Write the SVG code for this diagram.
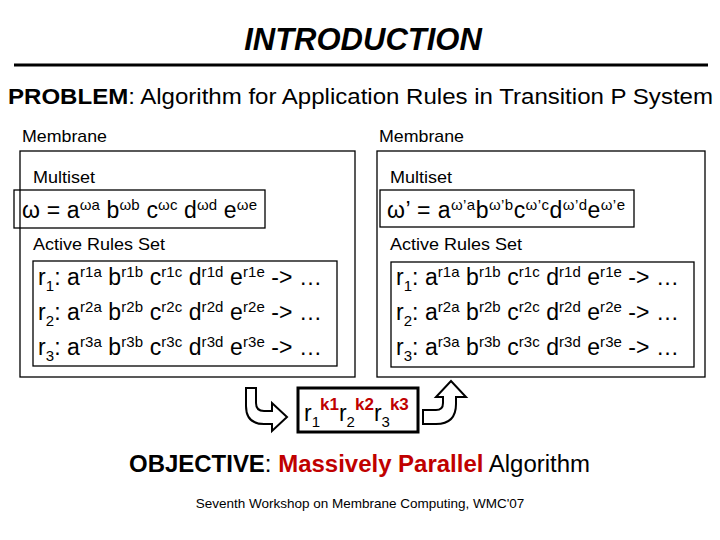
<svg xmlns="http://www.w3.org/2000/svg" width="720" height="540" viewBox="0 0 720 540">
<style>
text{font-family:"Liberation Sans",Arial,sans-serif;fill:#000}
.box{fill:none;stroke:#000;stroke-width:1.3}
.lbl{font-size:17px}
.ml{font-size:23px}
.sup{font-size:15px}
.sub{font-size:15px}
.red{fill:#c00000;font-weight:bold}
</style>
<rect width="720" height="540" fill="#fff"/>
<text x="363" y="50" text-anchor="middle" font-size="31" font-weight="bold" font-style="italic">INTRODUCTION</text>
<line x1="14" y1="65" x2="708" y2="65" stroke="#000" stroke-width="3"/>
<text x="8" y="104" font-size="22" textLength="705" lengthAdjust="spacingAndGlyphs"><tspan font-weight="bold">PROBLEM</tspan>: Algorithm for Application Rules in Transition P System</text>

<g id="membrane-left">
<text class="lbl" x="22" y="142" textLength="85" lengthAdjust="spacingAndGlyphs">Membrane</text>
<rect class="box" x="20" y="151" width="335" height="226"/>
<text class="lbl" x="33" y="183" textLength="62" lengthAdjust="spacingAndGlyphs">Multiset</text>
<rect class="box" x="14" y="190" width="251" height="38"/>
<text class="ml" x="22" y="218" textLength="235" lengthAdjust="spacing">ω = a<tspan class="sup" dy="-8">ωa</tspan><tspan dy="8"> b</tspan><tspan class="sup" dy="-8">ωb</tspan><tspan dy="8"> c</tspan><tspan class="sup" dy="-8">ωc</tspan><tspan dy="8"> d</tspan><tspan class="sup" dy="-8">ωd</tspan><tspan dy="8"> e</tspan><tspan class="sup" dy="-8">ωe</tspan></text>
<text class="lbl" x="33" y="250" textLength="132" lengthAdjust="spacingAndGlyphs">Active Rules Set</text>
<rect class="box" x="33" y="261" width="304" height="105"/>
<text class="ml" x="38" y="285" textLength="284" lengthAdjust="spacing">r<tspan class="sub" dy="6">1</tspan><tspan dy="-6">: a</tspan><tspan class="sup" dy="-8">r1a</tspan><tspan dy="8"> b</tspan><tspan class="sup" dy="-8">r1b</tspan><tspan dy="8"> c</tspan><tspan class="sup" dy="-8">r1c</tspan><tspan dy="8"> d</tspan><tspan class="sup" dy="-8">r1d</tspan><tspan dy="8"> e</tspan><tspan class="sup" dy="-8">r1e</tspan><tspan dy="8"> -&gt;  …</tspan></text>
<text class="ml" x="38" y="320" textLength="284" lengthAdjust="spacing">r<tspan class="sub" dy="6">2</tspan><tspan dy="-6">: a</tspan><tspan class="sup" dy="-8">r2a</tspan><tspan dy="8"> b</tspan><tspan class="sup" dy="-8">r2b</tspan><tspan dy="8"> c</tspan><tspan class="sup" dy="-8">r2c</tspan><tspan dy="8"> d</tspan><tspan class="sup" dy="-8">r2d</tspan><tspan dy="8"> e</tspan><tspan class="sup" dy="-8">r2e</tspan><tspan dy="8"> -&gt;  …</tspan></text>
<text class="ml" x="38" y="355" textLength="284" lengthAdjust="spacing">r<tspan class="sub" dy="6">3</tspan><tspan dy="-6">: a</tspan><tspan class="sup" dy="-8">r3a</tspan><tspan dy="8"> b</tspan><tspan class="sup" dy="-8">r3b</tspan><tspan dy="8"> c</tspan><tspan class="sup" dy="-8">r3c</tspan><tspan dy="8"> d</tspan><tspan class="sup" dy="-8">r3d</tspan><tspan dy="8"> e</tspan><tspan class="sup" dy="-8">r3e</tspan><tspan dy="8"> -&gt;  …</tspan></text>
</g>

<g id="membrane-right">
<text class="lbl" x="379" y="142" textLength="85" lengthAdjust="spacingAndGlyphs">Membrane</text>
<rect class="box" x="377" y="151" width="328" height="226"/>
<text class="lbl" x="390" y="183" textLength="62" lengthAdjust="spacingAndGlyphs">Multiset</text>
<rect class="box" x="380" y="190" width="254" height="37"/>
<text class="ml" x="387" y="218" textLength="238" lengthAdjust="spacing">ω’ = a<tspan class="sup" dy="-8">ω’a</tspan><tspan dy="8">b</tspan><tspan class="sup" dy="-8">ω’b</tspan><tspan dy="8">c</tspan><tspan class="sup" dy="-8">ω’c</tspan><tspan dy="8">d</tspan><tspan class="sup" dy="-8">ω’d</tspan><tspan dy="8">e</tspan><tspan class="sup" dy="-8">ω’e</tspan></text>
<text class="lbl" x="390" y="250" textLength="132" lengthAdjust="spacingAndGlyphs">Active Rules Set</text>
<rect class="box" x="391" y="262" width="303" height="105"/>
<text class="ml" x="396" y="285" textLength="283" lengthAdjust="spacing">r<tspan class="sub" dy="6">1</tspan><tspan dy="-6">: a</tspan><tspan class="sup" dy="-8">r1a</tspan><tspan dy="8"> b</tspan><tspan class="sup" dy="-8">r1b</tspan><tspan dy="8"> c</tspan><tspan class="sup" dy="-8">r1c</tspan><tspan dy="8"> d</tspan><tspan class="sup" dy="-8">r1d</tspan><tspan dy="8"> e</tspan><tspan class="sup" dy="-8">r1e</tspan><tspan dy="8"> -&gt;  …</tspan></text>
<text class="ml" x="396" y="320" textLength="283" lengthAdjust="spacing">r<tspan class="sub" dy="6">2</tspan><tspan dy="-6">: a</tspan><tspan class="sup" dy="-8">r2a</tspan><tspan dy="8"> b</tspan><tspan class="sup" dy="-8">r2b</tspan><tspan dy="8"> c</tspan><tspan class="sup" dy="-8">r2c</tspan><tspan dy="8"> d</tspan><tspan class="sup" dy="-8">r2d</tspan><tspan dy="8"> e</tspan><tspan class="sup" dy="-8">r2e</tspan><tspan dy="8"> -&gt;  …</tspan></text>
<text class="ml" x="396" y="355" textLength="283" lengthAdjust="spacing">r<tspan class="sub" dy="6">3</tspan><tspan dy="-6">: a</tspan><tspan class="sup" dy="-8">r3a</tspan><tspan dy="8"> b</tspan><tspan class="sup" dy="-8">r3b</tspan><tspan dy="8"> c</tspan><tspan class="sup" dy="-8">r3c</tspan><tspan dy="8"> d</tspan><tspan class="sup" dy="-8">r3d</tspan><tspan dy="8"> e</tspan><tspan class="sup" dy="-8">r3e</tspan><tspan dy="8"> -&gt;  …</tspan></text>
</g>

<g id="connectors" fill="#fff" stroke="#000" stroke-width="2" stroke-linejoin="miter">
<path d="M246,388 H256 V403 Q256,411 264,411 H272 V403 L287,417 L272,431 V424 H264 Q246,424 246,406 Z"/>
<path d="M423,410 H436 Q443,410 443,403 V397 H436 L451,381 L466,397 H456 V404 Q456,424 436,424 H423 Z"/>
</g>

<g id="rule-sequence">
<rect x="298" y="388" width="120" height="44" fill="none" stroke="#000" stroke-width="3"/>
<text x="304" y="421" font-size="23">r<tspan class="sub" dy="6">1</tspan><tspan class="red" font-size="17" dy="-17">k1</tspan><tspan dy="11">r</tspan><tspan class="sub" dy="6">2</tspan><tspan class="red" font-size="17" dy="-17">k2</tspan><tspan dy="11">r</tspan><tspan class="sub" dy="6">3</tspan><tspan class="red" font-size="17" dy="-17">k3</tspan></text>
</g>

<text x="129" y="472" font-size="23" textLength="461" lengthAdjust="spacingAndGlyphs"><tspan font-weight="bold">OBJECTIVE</tspan>: <tspan class="red">Massively Parallel</tspan> Algorithm</text>
<text x="360" y="508" text-anchor="middle" font-size="13.5">Seventh Workshop on Membrane Computing, WMC'07</text>
</svg>
